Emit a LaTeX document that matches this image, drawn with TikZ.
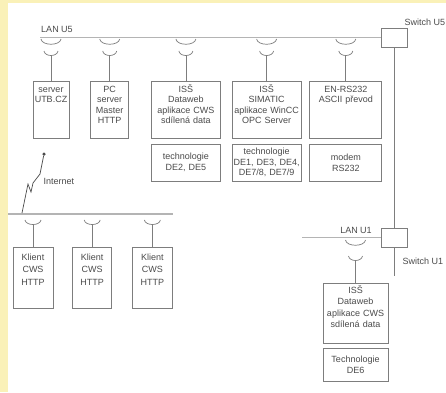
\documentclass[tikz,border=0pt]{standalone}
\usepackage{fontspec}
\setmainfont{Liberation Sans}
\usetikzlibrary{positioning}
\definecolor{paper}{RGB}{250,241,184}
\definecolor{wire}{RGB}{180,180,180}
\definecolor{frame}{RGB}{125,125,125}
\definecolor{ink}{RGB}{75,75,75}

\begin{document}
\begin{tikzpicture}[
        x=1pt, y=-1pt,
        every node/.style={font=\fontsize{9}{10.5}\selectfont, text=ink},
        dev/.style={rectangle, draw=frame, line width=0.7pt, inner sep=0pt, align=center, anchor=north, text height=11pt, text depth=46pt},
        tech/.style={rectangle, draw=frame, line width=0.7pt, inner sep=0pt, align=center, minimum height=37pt},
        switchbox/.style={rectangle, draw=frame, line width=0.7pt, minimum width=26pt, minimum height=19pt, inner sep=0pt},
        bus/.style={wire, line width=1.6pt},
        link/.style={frame, line width=0.7pt},
        sock/.style={frame, line width=0.7pt},
        zap/.style={ink, line width=0.7pt},
        dot/.style={circle, fill=ink, inner sep=0pt, minimum size=3.5pt}
    ]
    \useasboundingbox (0,0) rectangle (446,392);
    \fill[paper] (0,0) rectangle (446,392);
    \fill[white] (8,3) rectangle (446,392);

    \node[switchbox] (swU5) at (394,37.5) {};
    \node[switchbox] (swU1) at (394,237.5) {};
    \node[anchor=west] (swU5label) at (401,22) {Switch U5};
    \node[anchor=west] (swU1label) at (399,261) {Switch U1};
    \node (lanU5label) at (57,29) {LAN U5};
    \node (lanU1label) at (356,230) {LAN U1};
    \coordinate (lanU5) at (40,37.5);
    \coordinate (lanU1) at (302,237.5);
    \coordinate (swU1end) at (394,276);
    \coordinate (lanNetL) at (8,214);
    \coordinate (lanNetR) at (173,214);

    \node[dev, text width=36pt] (utb) at (51,81) {server\\UTB.CZ};
    \node[dev, text width=38pt, right=21pt of utb] (master) {PC\\server\\Master\\HTTP};
    \node[dev, text width=69pt, right=22pt of master] (dataweb) {ISŠ\\Dataweb\\aplikace CWS\\sdílená data};
    \node[dev, text width=69pt, right=11pt of dataweb] (wincc) {ISŠ\\SIMATIC\\aplikace WinCC\\OPC Server};
    \node[dev, text width=72pt, right=8pt of wincc] (rs) {EN-RS232\\ASCII převod};

    \node[tech, text width=69pt, below=5pt of dataweb] (dataweb2) {technologie\\DE2, DE5};
    \node[tech, text width=69pt, below=5pt of wincc] (wincc2) {technologie\\DE1, DE3, DE4,\\DE7/8, DE7/9};
    \node[tech, text width=72pt, below=5pt of rs] (rs2) {modem\\RS232};

    \node[dev, text width=40pt, text height=13pt, text depth=48pt, font=\fontsize{9}{12.5}\selectfont] (klient1) at (33,247) {Klient\\CWS\\HTTP};
    \node[dev, text width=39pt, text height=13pt, text depth=48pt, font=\fontsize{9}{12.5}\selectfont, right=19pt of klient1] (klient2) {Klient\\CWS\\HTTP};
    \node[dev, text width=40pt, text height=13pt, text depth=48pt, font=\fontsize{9}{12.5}\selectfont, right=20pt of klient2] (klient3) {Klient\\CWS\\HTTP};

    \node[dev, text width=65pt, text height=10pt, text depth=50pt, font=\fontsize{9}{11.5}\selectfont] (dataweb5) at (355.5,283) {ISŠ\\Dataweb\\aplikace CWS\\sdílená data};
    \node[tech, text width=65pt, minimum height=33pt, font=\fontsize{9}{11.5}\selectfont, below=4pt of dataweb5] (dataweb6) {Technologie\\DE6};

    \node[dot] (inet) at (44,154) {};
    \node[anchor=west] (inetlabel) at (40,181) {Internet};
    \coordinate (inetdrop) at (22,213);

    \draw[bus] (lanU5) -- (swU5.west);
    \draw[bus] (lanU1) -- (swU1.west);
    \draw[bus] (lanNetL) -- (lanNetR);
    \draw[link] (swU5.south) -- (swU1.north);
    \draw[link] (swU1.south) -- (swU1end);

    \foreach \nd in {utb, master, dataweb, wincc, rs} {
        \draw[sock] (\nd.north |- 0,39) ++(-10,0) .. controls +(1,7) and +(-1,7) .. ++(20,0);
        \draw[sock] (\nd.north |- 0,51) ++(-7,0) .. controls +(1,6) and +(-1,6) .. ++(14,0);
        \draw[link] (\nd.north |- 0,55.5) -- (\nd.north);
    }
    \foreach \nd in {klient1, klient2, klient3} {
        \draw[sock] (\nd.north |- 0,220) ++(-8,0) .. controls +(1,6) and +(-1,6) .. ++(16,0);
        \draw[link] (\nd.north |- 0,224.5) -- (\nd.north);
    }
    \draw[sock] (dataweb5.north |- 0,240) ++(-10,0) .. controls +(1,7) and +(-1,7) .. ++(20,0);
    \draw[sock] (dataweb5.north |- 0,256) ++(-7,0) .. controls +(1,6) and +(-1,6) .. ++(14,0);
    \draw[link] (dataweb5.north |- 0,260.5) -- (dataweb5.north);

    \draw[zap] (inet) -- (40,174) -- (33,183) -- (31,192) -- (28,184) -- (inetdrop);
\end{tikzpicture}
\end{document}
